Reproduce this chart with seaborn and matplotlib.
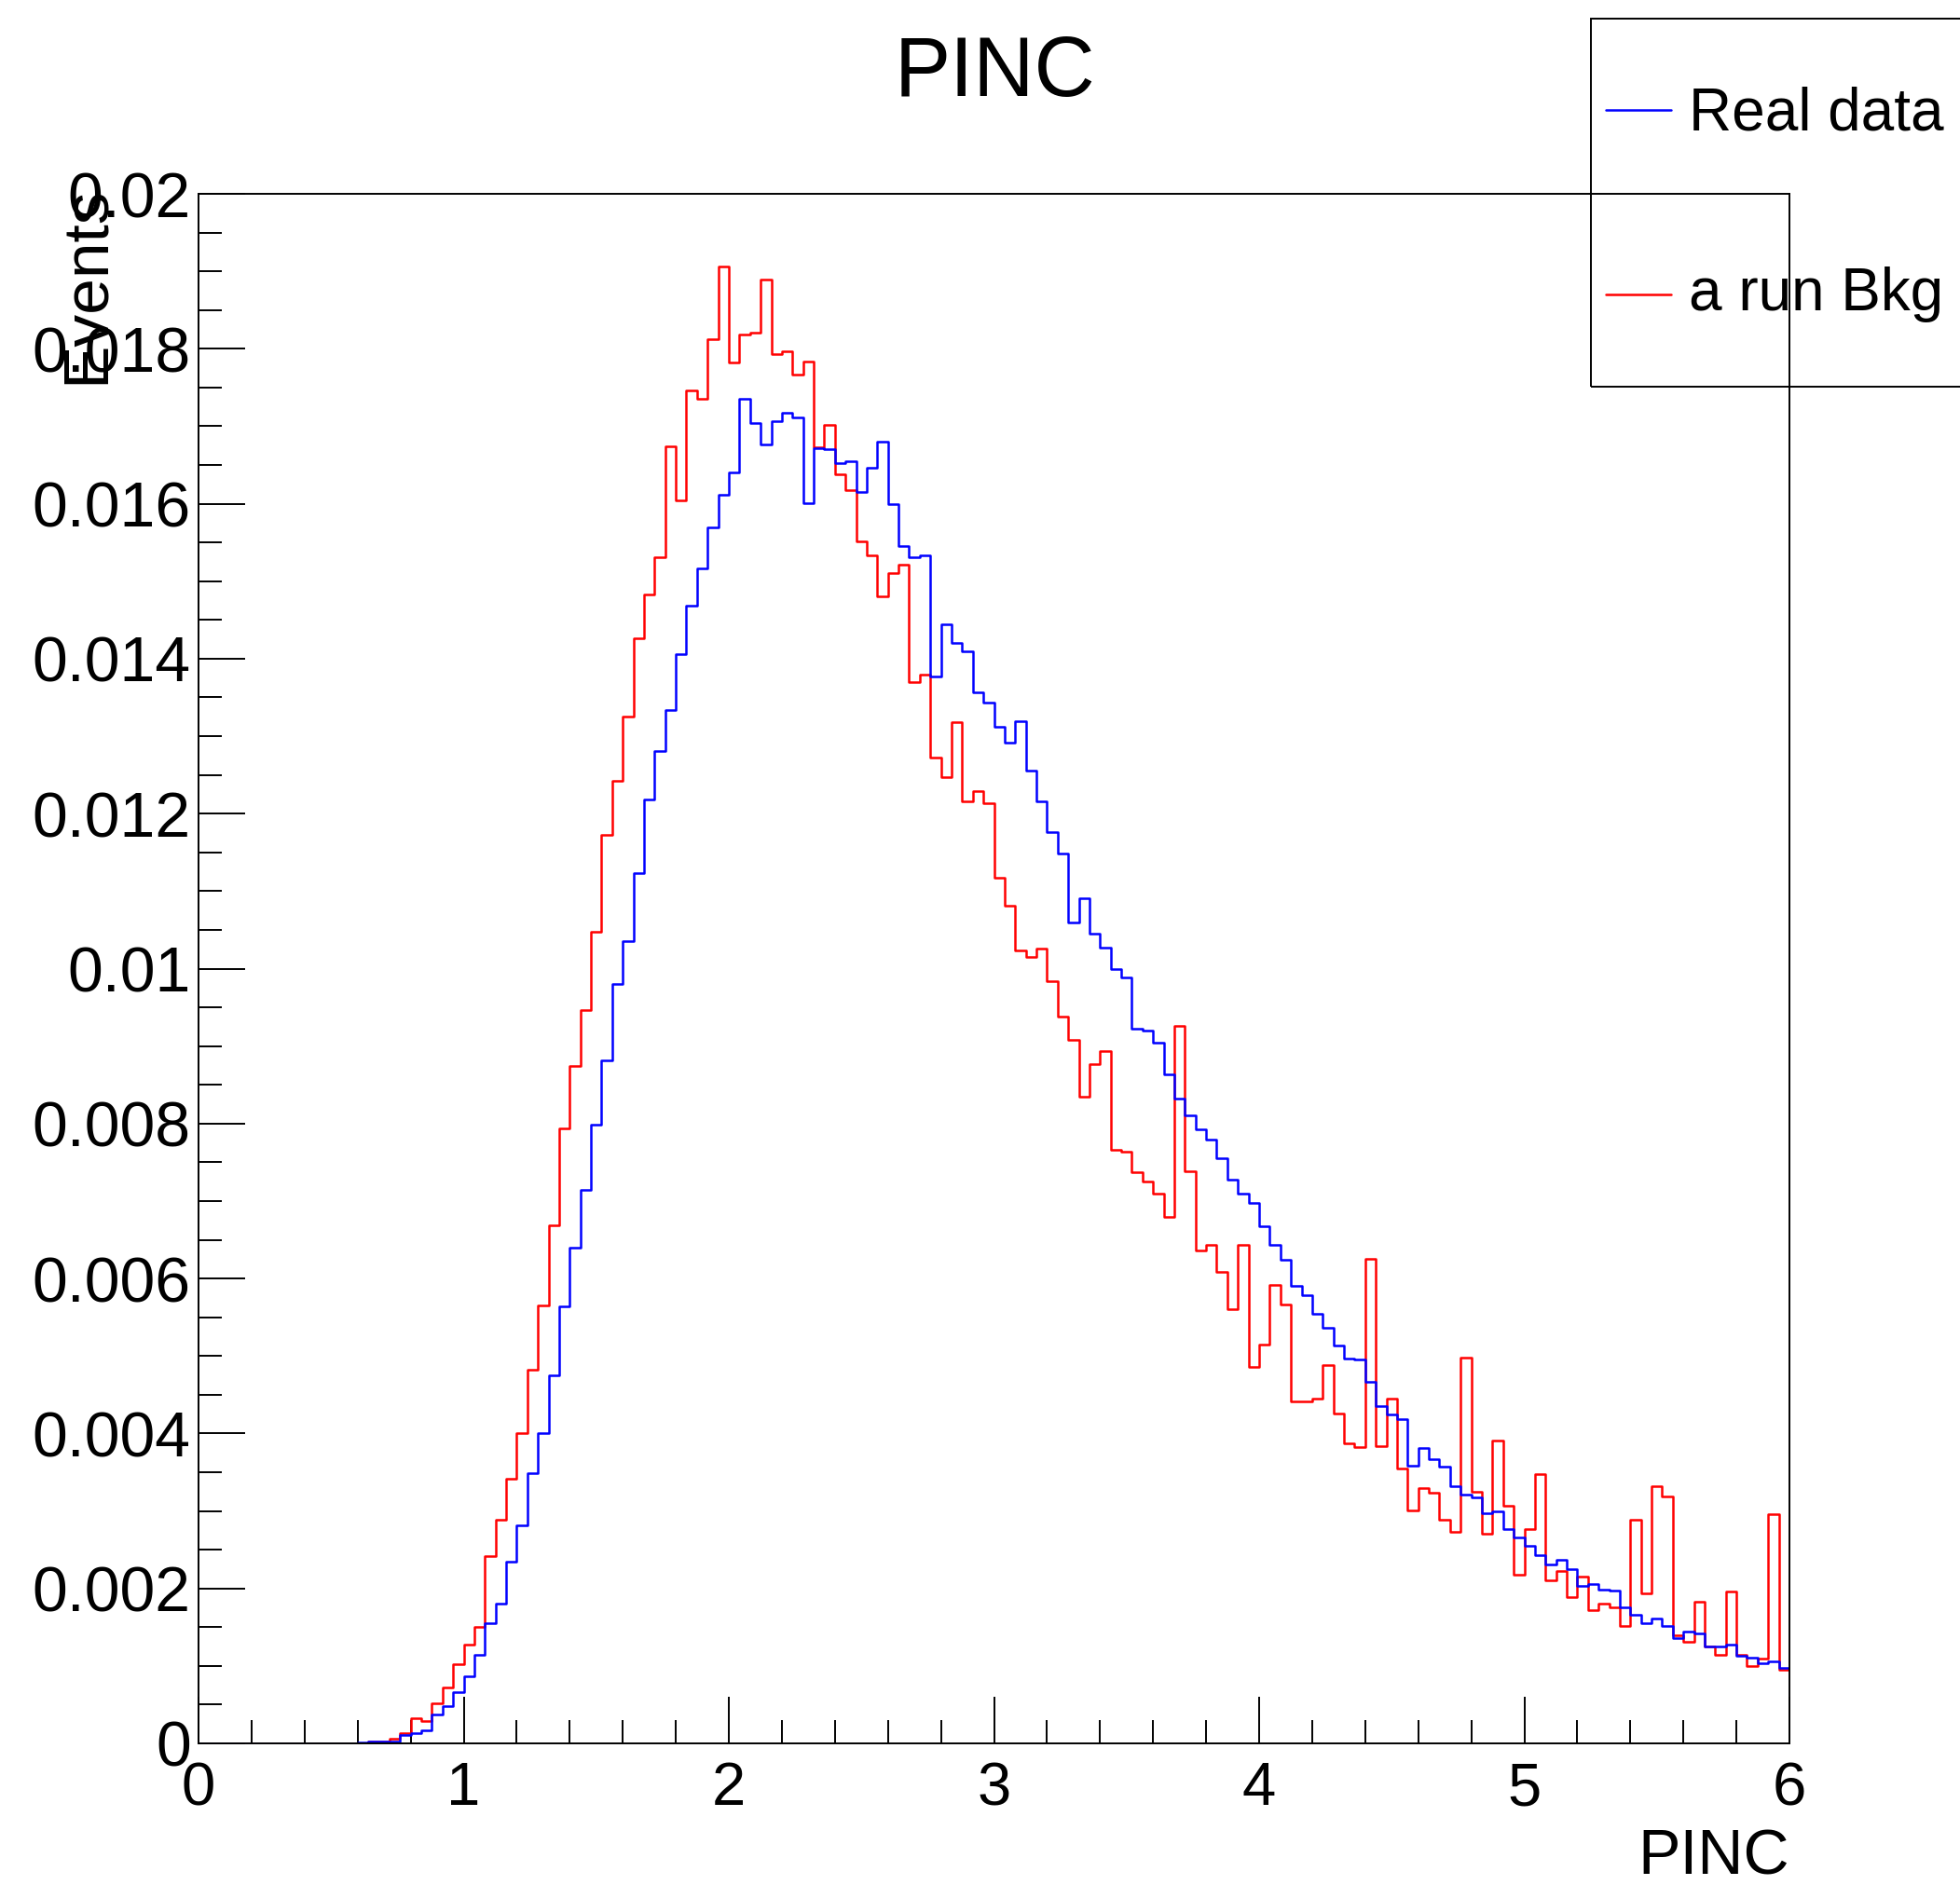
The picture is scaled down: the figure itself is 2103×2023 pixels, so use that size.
import numpy as np
import pandas as pd
import seaborn as sns
import matplotlib.pyplot as plt
from matplotlib.lines import Line2D
from matplotlib.patches import Rectangle
from matplotlib.ticker import MultipleLocator, FormatStrFormatter

sns.set_style('white')
plt.rcParams['font.family'] = ['Liberation Sans', 'DejaVu Sans']
plt.rcParams['text.color'] = 'black'

# histogram binning: 150 bins from 0 to 6
n_bins = 150
x_min, x_max = 0.0, 6.0

# normalised bin contents
real_data = [
    0, 0, 0, 0, 0, 0, 0, 0, 0, 0,
    0, 0, 0, 0, 0, 0.00001, 0.00002, 0.00002, 0.00003, 0.00011,
    0.00013, 0.00017, 0.00037, 0.00048, 0.00066, 0.00087, 0.00114, 0.00155, 0.0018, 0.00235,
    0.00281, 0.00349, 0.00401, 0.00475, 0.00564, 0.0064, 0.00714, 0.00799, 0.00881, 0.0098,
    0.01036, 0.01123, 0.01218, 0.01281, 0.01334, 0.01406, 0.01469, 0.01516, 0.01569, 0.01612,
    0.01641, 0.01735, 0.01704, 0.01676, 0.01706, 0.01717, 0.01711, 0.01601, 0.01672, 0.0167,
    0.01652, 0.01655, 0.01615, 0.01646, 0.0168, 0.01599, 0.01545, 0.01531, 0.01533, 0.01377,
    0.01444, 0.0142, 0.01409, 0.01356, 0.01343, 0.01312, 0.01292, 0.01319, 0.01256, 0.01216,
    0.01176, 0.01148, 0.0106, 0.01091, 0.01045, 0.01027, 0.01, 0.00988, 0.00922, 0.0092,
    0.00904, 0.00864, 0.00832, 0.0081, 0.00792, 0.00779, 0.00755, 0.00728, 0.00709, 0.00697,
    0.00668, 0.00643, 0.00624, 0.0059, 0.00579, 0.00554, 0.00536, 0.00514, 0.00497, 0.00496,
    0.00467, 0.00435, 0.00425, 0.00419, 0.00358, 0.00381, 0.00367, 0.00357, 0.00332, 0.00321,
    0.00317, 0.00297, 0.00299, 0.00277, 0.00266, 0.00255, 0.00243, 0.00231, 0.00237, 0.00225,
    0.00203, 0.00206, 0.00198, 0.00197, 0.00176, 0.00166, 0.00155, 0.00161, 0.00151, 0.00136,
    0.00144, 0.00142, 0.00125, 0.00125, 0.00128, 0.00113, 0.00111, 0.00104, 0.00106, 0.00097,
]

run_bkg = [
    0, 0, 0, 0, 0, 0, 0, 0, 0, 0,
    0, 0, 0, 0, 0, 0, 0.00003, 0.00003, 0.00006, 0.00013,
    0.00033, 0.00029, 0.00052, 0.00072, 0.00102, 0.00127, 0.0015, 0.00242, 0.00289, 0.00342,
    0.004, 0.00482, 0.00565, 0.00669, 0.00794, 0.00874, 0.00947, 0.01048, 0.01172, 0.01242,
    0.01325, 0.01426, 0.01483, 0.01531, 0.01674, 0.01604, 0.01746, 0.01736, 0.01812, 0.01906,
    0.01782, 0.01818, 0.01821, 0.01889, 0.01793, 0.01797, 0.01767, 0.01783, 0.01673, 0.01702,
    0.01638, 0.01617, 0.01552, 0.01533, 0.01481, 0.01511, 0.01521, 0.0137, 0.01379, 0.01273,
    0.01247, 0.01318, 0.01216, 0.01229, 0.01214, 0.01117, 0.01081, 0.01024, 0.01015, 0.01026,
    0.00984, 0.00938, 0.00908, 0.00835, 0.00877, 0.00893, 0.00766, 0.00764, 0.00737, 0.00725,
    0.00709, 0.0068, 0.00926, 0.00738, 0.00636, 0.00643, 0.00609, 0.00561, 0.00643, 0.00486,
    0.00515, 0.00592, 0.00567, 0.00441, 0.00441, 0.00445, 0.00488, 0.00426, 0.00387, 0.00383,
    0.00625, 0.00384, 0.00445, 0.00355, 0.00301, 0.00329, 0.00323, 0.00289, 0.00273, 0.00498,
    0.00325, 0.00271, 0.00391, 0.00307, 0.00218, 0.00277, 0.00348, 0.0021, 0.00222, 0.00189,
    0.00215, 0.00172, 0.0018, 0.00176, 0.00151, 0.00289, 0.00194, 0.00332, 0.00319, 0.0014,
    0.00131, 0.00183, 0.00125, 0.00114, 0.00196, 0.00114, 0.001, 0.0011, 0.00296, 0.00095,
]

series_names = ['Real data', 'a run Bkg']
series_colors = ['blue', 'red']

edges = np.linspace(x_min, x_max, n_bins + 1)
centers = 0.5 * (edges[:-1] + edges[1:])
df = pd.DataFrame({'PINC': centers, 'real': real_data, 'bkg': run_bkg})

W, H = 2103, 2023
fig = plt.figure(figsize=(W / 100, H / 100), dpi=100)
ax = fig.add_axes([213 / W, 1 - 1871 / H, (1920 - 213) / W, (1871 - 208) / H])

lw = 1.8
sns.histplot(data=df, x='PINC', weights='bkg', bins=n_bins, binrange=(x_min, x_max),
             element='step', fill=False, color='red', lw=lw, ax=ax)
sns.histplot(data=df, x='PINC', weights='real', bins=n_bins, binrange=(x_min, x_max),
             element='step', fill=False, color='blue', lw=lw, ax=ax)

ax.set_xlim(x_min, x_max)
ax.set_ylim(0, 0.02)
ax.set_xlabel('')
ax.set_ylabel('')

ax.xaxis.set_major_locator(MultipleLocator(1))
ax.xaxis.set_minor_locator(MultipleLocator(0.2))
ax.yaxis.set_major_locator(MultipleLocator(0.002))
ax.yaxis.set_minor_locator(MultipleLocator(0.0005))
ax.yaxis.set_major_formatter(FormatStrFormatter('%g'))
ax.xaxis.set_major_formatter(FormatStrFormatter('%g'))

ax.tick_params(which='both', direction='in', bottom=True, left=True, top=False, right=False,
               width=1.4, color='black', labelcolor='black')
ax.tick_params(which='major', length=36)
ax.tick_params(which='minor', length=18)
ax.tick_params(axis='y', pad=6, labelsize=49)
ax.tick_params(axis='x', pad=14, labelsize=47)
for s in ax.spines.values():
    s.set_color('black')
    s.set_linewidth(1.4)

# title and axis titles, ROOT style
fig.text(1067 / W, 1 - 103 / H, 'PINC', ha='center', va='baseline', fontsize=65, color='black')
fig.text(1920 / W, 1 - 2012 / H, 'PINC', ha='right', va='baseline', fontsize=49, color='black')
fig.text(93 / W, 1 - 200 / H, 'Events', ha='center', va='top', rotation=90, fontsize=50,
         color='black')

# legend box at the top right, running off the figure edge
fig.patches.append(Rectangle((1707 / W, 1 - 415 / H), (2200 - 1707) / W, (415 - 20) / H,
                             transform=fig.transFigure, fill=False, edgecolor='black',
                             lw=1.4, clip_on=False))
for name, col, yl, yb in zip(series_names, series_colors, [118, 316], [140, 333]):
    fig.lines.append(Line2D([1723 / W, 1793 / W], [1 - yl / H, 1 - yl / H],
                            transform=fig.transFigure, color=col, lw=lw))
    fig.text(1812 / W, 1 - yb / H, name, ha='left', va='baseline', fontsize=46, color='black')

fig.savefig('out.png', dpi=100)
